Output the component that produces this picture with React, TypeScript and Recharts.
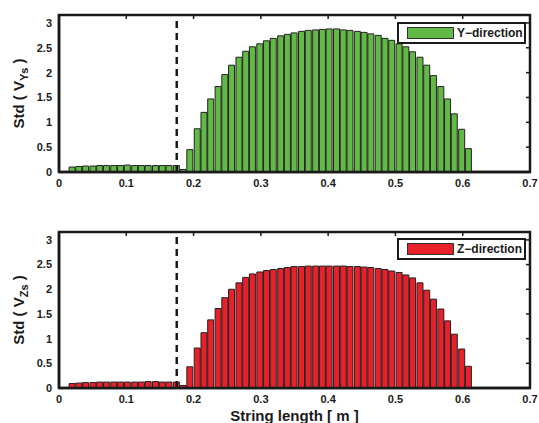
import React from "react";
import { BarChart, Bar, XAxis, YAxis, ReferenceLine, ReferenceArea, Legend } from "recharts";

// bar centres along the string [m]
const positions = [
  0.020, 0.030, 0.040, 0.051, 0.061, 0.071, 0.082, 0.092, 0.102, 0.113,
  0.123, 0.133, 0.144, 0.154, 0.164, 0.175, 0.185, 0.195, 0.206, 0.216,
  0.226, 0.237, 0.247, 0.257, 0.268, 0.278, 0.288, 0.299, 0.309, 0.319,
  0.330, 0.340, 0.350, 0.361, 0.371, 0.382, 0.392, 0.402, 0.413, 0.423,
  0.433, 0.444, 0.454, 0.464, 0.475, 0.485, 0.495, 0.506, 0.516, 0.526,
  0.537, 0.547, 0.557, 0.568, 0.578, 0.588, 0.599, 0.609,
];

const stdY = [
  0.10, 0.11, 0.12, 0.12, 0.13, 0.13, 0.13, 0.13, 0.14, 0.13,
  0.13, 0.13, 0.13, 0.13, 0.13, 0.13, 0.05, 0.45, 0.87, 1.20,
  1.47, 1.72, 1.96, 2.15, 2.31, 2.43, 2.52, 2.58, 2.64, 2.69,
  2.74, 2.77, 2.80, 2.83, 2.85, 2.86, 2.87, 2.88, 2.88, 2.86,
  2.85, 2.83, 2.81, 2.78, 2.75, 2.69, 2.65, 2.58, 2.52, 2.42,
  2.31, 2.15, 1.94, 1.72, 1.47, 1.17, 0.86, 0.47,
];

const stdZ = [
  0.09, 0.10, 0.11, 0.11, 0.12, 0.12, 0.12, 0.12, 0.12, 0.12,
  0.12, 0.13, 0.13, 0.12, 0.12, 0.12, 0.05, 0.43, 0.81, 1.12,
  1.38, 1.61, 1.83, 2.00, 2.13, 2.24, 2.31, 2.35, 2.38, 2.40,
  2.42, 2.44, 2.46, 2.46, 2.47, 2.47, 2.47, 2.47, 2.47, 2.47,
  2.46, 2.46, 2.45, 2.44, 2.42, 2.40, 2.37, 2.34, 2.29, 2.23,
  2.13, 1.98, 1.80, 1.60, 1.36, 1.09, 0.79, 0.44,
];

const xTicks = [0, 0.1, 0.2, 0.3, 0.4, 0.5, 0.6, 0.7];
const innerXTicks = [0.1, 0.2, 0.3, 0.4, 0.5, 0.6];
const yTicks = [0, 0.5, 1, 1.5, 2, 2.5, 3];
const innerYTicks = [0.5, 1, 1.5, 2, 2.5, 3];
const cutoff = 0.175;
const xMax = 0.7;
const yMax = 3.16;

const FONT = "'Liberation Sans', Arial, sans-serif";
const INK = "#1a1a1a";

function YLabel({ viewBox, sub }: any) {
  const cy = viewBox.y + viewBox.height / 2;
  const cx = 24;
  return (
    <text
      x={cx}
      y={cy}
      transform={`rotate(-90 ${cx} ${cy})`}
      textAnchor="middle"
      fontFamily={FONT}
      fontWeight="bold"
      fontSize={15}
      fill={INK}
    >
      Std ( V
      <tspan fontSize={11} dy={4}>{sub}</tspan>
      <tspan dy={-4}> )</tspan>
    </text>
  );
}

function LegendBox({ color, text }: { color: string; text: string }) {
  return (
    <div
      style={{
        boxSizing: "border-box",
        width: 129,
        height: 22,
        border: `2.5px solid ${INK}`,
        background: "#fff",
        display: "flex",
        alignItems: "center",
        fontFamily: FONT,
        fontWeight: "bold",
        fontSize: 12,
        color: INK,
      }}
    >
      <div
        style={{
          width: 45,
          height: 10,
          marginLeft: 8,
          marginRight: 3,
          background: color,
          border: "1px solid #333",
        }}
      />
      <span>{text}</span>
    </div>
  );
}

interface PanelProps {
  values: number[];
  color: string;
  sub: string;
  name: string;
  height: number;
  top: number;
  xAxisHeight: number;
  legendTop: number;
  showXLabel?: boolean;
}

function Panel({ values, color, sub, name, height, top, xAxisHeight, legendTop, showXLabel }: PanelProps) {
  const data = positions.map((x, i) => ({ x, v: values[i] }));
  // inward tick marks on the top and right edges of the box
  const tickX = 0.08;
  const tickY = 0.006;
  return (
    <BarChart
      width={539}
      height={height}
      data={data}
      margin={{ top, right: 9, left: 0, bottom: 0 }}
      style={{ fontFamily: FONT }}
    >
      <XAxis
        dataKey="x"
        type="number"
        domain={[0, xMax]}
        ticks={xTicks}
        height={xAxisHeight}
        axisLine={{ stroke: INK, strokeWidth: 2.5 }}
        tickLine={false}
        tickSize={0}
        tickMargin={7}
        tick={{ fill: INK, fontSize: 11, fontWeight: "bold" }}
        label={
          showXLabel
            ? (p: any) => (
                <text
                  x={p.viewBox.x + p.viewBox.width / 2}
                  y={p.viewBox.y + 33}
                  textAnchor="middle"
                  fontFamily={FONT}
                  fontWeight="bold"
                  fontSize={15}
                  fill={INK}
                >
                  String length [ m ]
                </text>
              )
            : undefined
        }
      />
      <YAxis
        type="number"
        domain={[0, yMax]}
        ticks={yTicks}
        width={59}
        axisLine={{ stroke: INK, strokeWidth: 2.5 }}
        tickLine={false}
        tickSize={0}
        tickMargin={7}
        tick={{ fill: INK, fontSize: 11, fontWeight: "bold" }}
        label={(p: any) => <YLabel viewBox={p.viewBox} sub={sub} />}
      />
      <Bar
        dataKey="v"
        name={name}
        fill={color}
        stroke="#222"
        strokeWidth={1}
        barSize={6}
        isAnimationActive={false}
      />
      <ReferenceArea
        x1={0}
        x2={xMax}
        y1={0}
        y2={yMax}
        fill="none"
        fillOpacity={0}
        stroke={INK}
        strokeWidth={2.5}
        ifOverflow="visible"
      />
      {innerXTicks.map((t) => (
        <ReferenceLine
          key={`tx${t}`}
          segment={[
            { x: t, y: yMax },
            { x: t, y: yMax - tickX },
          ]}
          stroke={INK}
          strokeWidth={1.5}
        />
      ))}
      {innerYTicks.map((t) => (
        <ReferenceLine
          key={`ty${t}`}
          segment={[
            { x: xMax, y: t },
            { x: xMax - tickY, y: t },
          ]}
          stroke={INK}
          strokeWidth={1.5}
        />
      ))}
      <ReferenceLine
        x={cutoff}
        stroke={INK}
        strokeWidth={2.5}
        strokeDasharray="7 5"
      />
      <Legend
        layout="vertical"
        align="center"
        verticalAlign="middle"
        wrapperStyle={{ top: legendTop, left: 397, width: 129, height: 22 }}
        content={() => <LegendBox color={color} text={name} />}
      />
    </BarChart>
  );
}

export default function App() {
  return (
    <div style={{ position: "absolute", left: 0, top: 0, width: 539, height: 423, background: "#fff" }}>
      <Panel
        values={stdY}
        color="#63b946"
        sub="Ys"
        name="Y−direction"
        height={200}
        top={15}
        xAxisHeight={28}
        legendTop={22}
      />
      <Panel
        values={stdZ}
        color="#e8202a"
        sub="Zs"
        name="Z−direction"
        height={223}
        top={32}
        xAxisHeight={35}
        legendTop={38}
        showXLabel
      />
    </div>
  );
}
